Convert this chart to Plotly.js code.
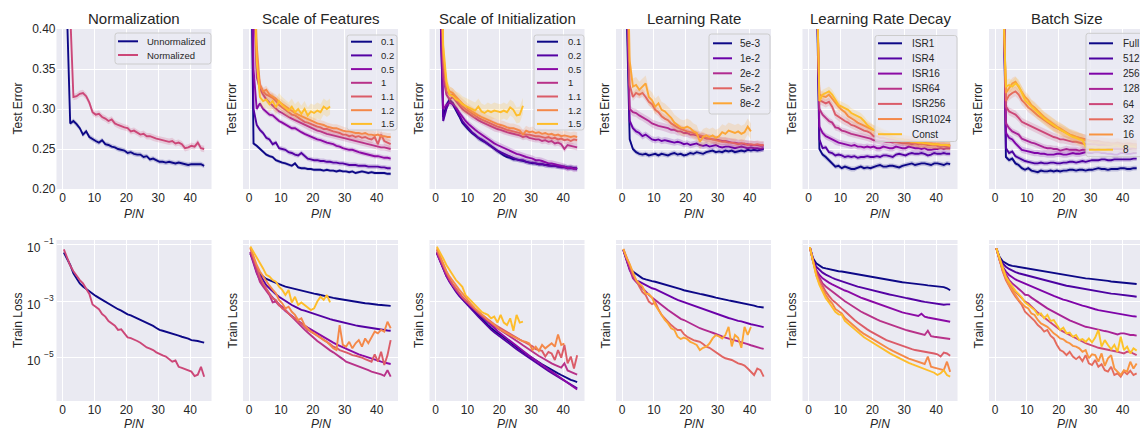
<!DOCTYPE html>
<html><head><meta charset="utf-8">
<script src="https://cdn.plot.ly/plotly-3.0.1.min.js"></script>
<style>html,body{margin:0;padding:0;overflow:hidden;background:#fff}#chart{width:1150px;height:431px}</style>
</head><body><div id="chart"></div>
<script>
// ---------- data ----------
const PN = [0.4,1.4,2.4,3.4,4.4,5.4,6.4,7.4,8.4,9.4,10.4,11.4,12.4,13.4,14.4,15.4,16.4,17.4,18.4,19.4,20.4,21.4,22.4,23.4,24.4,25.4,26.4,27.4,28.4,29.4,30.4,31.4,32.4,33.4,34.4,35.4,36.4,37.4,38.4,39.4,40.4,41.4,42.4,43.4,44.4];

const panelTitles = ['Normalization','Scale of Features','Scale of Initialization','Learning Rate','Learning Rate Decay','Batch Size'];
const normNames = ['Unnormalized','Normalized'];
const featNames = ['0.1','0.2','0.5','1','1.1','1.2','1.5'];
const initNames = ['0.1','0.2','0.5','1','1.1','1.2','1.5'];
const lrNames = ['5e-3','1e-2','2e-2','5e-2','8e-2'];
const decayNames = ['ISR1','ISR4','ISR16','ISR64','ISR256','ISR1024','Const'];
const batchNames = ['Full','512','256','128','64','32','16','8'];

const yTickVals = [0.20,0.25,0.30,0.35,0.40];
const xTickVals = [0,10,20,30,40];
const lossTickVals = [1e-1,1e-3,1e-5];
const lossTickExp = ['\u22121','\u22123','\u22125'];

// Test error (top row)
const teUnnorm = [0.62,0.42,0.282,0.285,0.281, 0.276,0.268,0.272,0.265,0.262, 0.260,0.258,0.261,0.256,0.255, 0.253,0.252,0.250,0.249,0.248, 0.245,0.246,0.244,0.243,0.243, 0.240,0.241,0.237,0.238,0.236, 0.234,0.234,0.233,0.234,0.233, 0.232,0.233,0.232,0.231,0.230, 0.231,0.231,0.231,0.231,0.229];
const teNorm = [0.70,0.55,0.42,0.315,0.316, 0.319,0.320,0.316,0.308,0.296, 0.293,0.294,0.290,0.288,0.285, 0.287,0.282,0.280,0.278,0.277, 0.276,0.272,0.273,0.271,0.268, 0.269,0.266,0.266,0.264,0.263, 0.262,0.261,0.260,0.259,0.260, 0.257,0.258,0.256,0.251,0.252, 0.254,0.253,0.258,0.251,0.250];

const teF01 = [0.60,0.257,0.254,0.250,0.247, 0.243,0.241,0.240,0.236,0.234, 0.233,0.232,0.230,0.229,0.232, 0.227,0.226,0.226,0.225,0.225, 0.224,0.224,0.224,0.223,0.224, 0.223,0.223,0.222,0.223,0.222, 0.222,0.221,0.222,0.220,0.221, 0.222,0.221,0.220,0.221,0.220, 0.220,0.220,0.220,0.219,0.219];
const teF02 = [0.60,0.30,0.280,0.274,0.270, 0.264,0.262,0.256,0.258,0.251, 0.250,0.249,0.246,0.245,0.243, 0.242,0.245,0.241,0.238,0.237, 0.236,0.236,0.235,0.235,0.234, 0.234,0.233,0.233,0.232,0.232, 0.231,0.230,0.230,0.230,0.229, 0.229,0.229,0.228,0.228,0.228, 0.228,0.227,0.227,0.226,0.226];
const teF05 = [0.65,0.35,0.300,0.307,0.300, 0.296,0.293,0.292,0.288,0.285, 0.283,0.281,0.279,0.276,0.276, 0.273,0.271,0.269,0.267,0.265, 0.263,0.262,0.261,0.259,0.258, 0.257,0.256,0.254,0.253,0.251, 0.250,0.249,0.249,0.247,0.246, 0.245,0.244,0.243,0.242,0.241, 0.241,0.240,0.239,0.239,0.238];
const teF1 = [0.70,0.45,0.340,0.325,0.318, 0.312,0.308,0.304,0.300,0.297, 0.295,0.292,0.290,0.288,0.286, 0.284,0.282,0.280,0.278,0.276, 0.274,0.273,0.272,0.270,0.269, 0.268,0.267,0.266,0.265,0.264, 0.263,0.262,0.261,0.260,0.259, 0.258,0.257,0.256,0.255,0.254, 0.253,0.252,0.252,0.251,0.250];
const teF11 = [0.70,0.50,0.360,0.330,0.322, 0.318,0.316,0.314,0.310,0.305, 0.302,0.299,0.296,0.293,0.292, 0.289,0.287,0.284,0.283,0.281, 0.280,0.278,0.277,0.275,0.275, 0.273,0.272,0.271,0.270,0.268, 0.268,0.266,0.267,0.265,0.266, 0.264,0.265,0.263,0.262,0.265, 0.256,0.268,0.260,0.258,0.256];
const teF12 = [0.70,0.50,0.380,0.330,0.322, 0.324,0.318,0.316,0.313,0.309, 0.306,0.303,0.300,0.298,0.295, 0.293,0.291,0.289,0.287,0.285, 0.284,0.282,0.281,0.280,0.278, 0.277,0.276,0.276,0.274,0.273, 0.272,0.272,0.271,0.270,0.270, 0.269,0.270,0.268,0.268,0.267, 0.268,0.266,0.266,0.265,0.265];
const teF15 = [0.70,0.50,0.360,0.315,0.310, 0.312,0.306,0.310,0.302,0.310, 0.305,0.302,0.298,0.303,0.296, 0.300,0.294,0.300,0.292,0.297, 0.295,0.298,0.296,0.303,0.300, 0.303];

const teI01 = [0.60,0.45,0.290,0.305,0.312, 0.306,0.299,0.291,0.283,0.278, 0.274,0.270,0.267,0.263,0.261, 0.259,0.256,0.253,0.251,0.247, 0.245,0.242,0.240,0.239,0.237, 0.237,0.236,0.235,0.234,0.233, 0.232,0.232,0.231,0.231,0.230, 0.230,0.229,0.229,0.228,0.228, 0.228,0.227,0.227,0.226,0.226];
const teI02 = [0.60,0.45,0.285,0.300,0.310, 0.308,0.300,0.293,0.285,0.280, 0.275,0.271,0.268,0.264,0.262, 0.259,0.257,0.254,0.250,0.248, 0.246,0.244,0.242,0.240,0.238, 0.237,0.236,0.236,0.234,0.233, 0.233,0.232,0.231,0.231,0.230, 0.229,0.229,0.229,0.228,0.227, 0.227,0.226,0.226,0.226,0.225];
const teI05 = [0.62,0.46,0.300,0.305,0.308, 0.306,0.302,0.296,0.290,0.285, 0.281,0.277,0.274,0.271,0.268, 0.265,0.262,0.260,0.257,0.255, 0.253,0.251,0.249,0.247,0.245, 0.244,0.243,0.241,0.240,0.239, 0.238,0.236,0.236,0.235,0.233, 0.232,0.232,0.231,0.230,0.229, 0.228,0.226,0.227,0.225,0.226];
const teI1 = [0.65,0.48,0.340,0.318,0.312, 0.315,0.310,0.305,0.300,0.297, 0.294,0.291,0.288,0.286,0.284, 0.282,0.280,0.278,0.276,0.275, 0.274,0.272,0.271,0.270,0.269, 0.268,0.267,0.265,0.266,0.264, 0.263,0.262,0.262,0.260,0.261, 0.259,0.260,0.257,0.258,0.256, 0.250,0.255,0.254,0.253,0.252];
const teI11 = [0.68,0.50,0.360,0.322,0.318, 0.318,0.312,0.308,0.303,0.300, 0.297,0.294,0.291,0.289,0.287, 0.285,0.283,0.281,0.280,0.278, 0.277,0.275,0.274,0.273,0.272, 0.271,0.270,0.269,0.268,0.268, 0.267,0.266,0.266,0.265,0.264, 0.265,0.263,0.264,0.262,0.263, 0.261,0.262,0.260,0.262,0.261];
const teI12 = [0.70,0.52,0.370,0.330,0.322, 0.320,0.315,0.311,0.307,0.303, 0.300,0.297,0.294,0.292,0.290, 0.288,0.286,0.284,0.283,0.281, 0.280,0.279,0.277,0.276,0.276, 0.274,0.273,0.268,0.273,0.271, 0.272,0.270,0.271,0.269,0.270, 0.268,0.269,0.267,0.268,0.266, 0.267,0.266,0.265,0.266,0.265];
const teI15 = [0.70,0.52,0.380,0.335,0.318, 0.316,0.312,0.310,0.306,0.304, 0.302,0.300,0.298,0.303,0.297, 0.295,0.298,0.296,0.298,0.297, 0.296,0.298,0.296,0.302,0.299, 0.292,0.293,0.304];

const teLR1 = [0.60,0.42,0.262,0.250,0.246, 0.244,0.243,0.244,0.242,0.243, 0.244,0.242,0.244,0.243,0.242, 0.244,0.245,0.243,0.244,0.242, 0.243,0.245,0.244,0.246,0.245, 0.244,0.246,0.247,0.248,0.246, 0.247,0.246,0.248,0.247,0.248, 0.246,0.247,0.248,0.247,0.249, 0.248,0.249,0.248,0.249,0.250];
const teLR2 = [0.62,0.45,0.285,0.276,0.272, 0.270,0.266,0.268,0.265,0.262, 0.261,0.262,0.260,0.261,0.260, 0.259,0.258,0.259,0.258,0.256, 0.257,0.255,0.256,0.257,0.255, 0.254,0.255,0.253,0.254,0.255, 0.253,0.252,0.253,0.253,0.252, 0.251,0.252,0.253,0.252,0.251, 0.252,0.251,0.251,0.250,0.251];
const teLR3 = [0.65,0.48,0.300,0.296,0.295, 0.292,0.290,0.287,0.285,0.282, 0.280,0.279,0.278,0.277,0.276, 0.274,0.274,0.272,0.272,0.270, 0.270,0.268,0.268,0.267,0.265, 0.265,0.263,0.263,0.262,0.262, 0.261,0.260,0.260,0.259,0.258, 0.258,0.257,0.257,0.256,0.256, 0.255,0.255,0.255,0.254,0.254];
const teLR4 = [0.68,0.50,0.330,0.315,0.320, 0.318,0.320,0.315,0.309,0.306, 0.299,0.296,0.291,0.288,0.286, 0.282,0.279,0.277,0.275,0.273, 0.272,0.271,0.270,0.268,0.267, 0.266,0.264,0.263,0.262,0.261, 0.260,0.259,0.259,0.258,0.258, 0.257,0.256,0.257,0.257,0.255, 0.256,0.255,0.256,0.255,0.255];
const teLR5 = [0.70,0.55,0.360,0.328,0.330, 0.324,0.328,0.332,0.315,0.311, 0.303,0.307,0.299,0.297,0.293, 0.289,0.283,0.280,0.277,0.276, 0.278,0.276,0.272,0.270,0.259, 0.265,0.267,0.265,0.267,0.264, 0.266,0.271,0.269,0.273,0.271, 0.270,0.272,0.269,0.271,0.278, 0.272];

const teD1 = [0.80,0.65,0.50,0.250,0.243, 0.240,0.236,0.232,0.228,0.229, 0.226,0.228,0.226,0.225,0.225, 0.227,0.228,0.226,0.227,0.226, 0.228,0.229,0.230,0.228,0.228, 0.229,0.229,0.228,0.227,0.229, 0.230,0.231,0.232,0.230,0.231, 0.232,0.232,0.231,0.230,0.232, 0.232,0.231,0.230,0.232,0.231];
const teD4 = [0.80,0.65,0.52,0.262,0.251, 0.252,0.246,0.245,0.242,0.243, 0.242,0.240,0.241,0.240,0.241, 0.239,0.240,0.240,0.241,0.240, 0.240,0.241,0.240,0.242,0.242, 0.241,0.240,0.243,0.244,0.243, 0.242,0.244,0.245,0.244,0.244, 0.245,0.244,0.242,0.243,0.245, 0.244,0.244,0.245,0.244,0.244];
const teD16 = [0.80,0.65,0.52,0.278,0.270, 0.266,0.264,0.262,0.259,0.258, 0.257,0.256,0.255,0.254,0.255, 0.253,0.253,0.252,0.253,0.252, 0.253,0.251,0.251,0.253,0.252, 0.251,0.251,0.253,0.252,0.251, 0.251,0.253,0.252,0.251,0.251, 0.250,0.251,0.249,0.249,0.250, 0.250,0.251,0.250,0.251,0.251];
const teD64 = [0.80,0.65,0.50,0.300,0.293, 0.289,0.285,0.283,0.277,0.276, 0.273,0.272,0.270,0.269,0.268, 0.267,0.266,0.265,0.264,0.263, 0.261,0.261,0.260,0.260,0.259, 0.259,0.258,0.259,0.258,0.257, 0.257,0.257,0.256,0.257,0.256, 0.257,0.256,0.255,0.255,0.256, 0.254,0.254,0.254,0.253,0.253];
const teD256 = [0.80,0.65,0.50,0.311,0.309, 0.307,0.309,0.303,0.293,0.290, 0.287,0.285,0.283,0.280,0.279, 0.277,0.274,0.273,0.272,0.270, 0.266,0.266,0.264,0.264,0.263, 0.262,0.262,0.261,0.260,0.259, 0.259,0.258,0.258,0.257,0.257, 0.256,0.257,0.256,0.256,0.255, 0.255,0.255,0.255,0.254,0.254];
const teD1024 = [0.80,0.65,0.50,0.318,0.316, 0.315,0.318,0.313,0.307,0.303, 0.299,0.296,0.291,0.289,0.286, 0.283,0.281,0.279,0.277,0.275, 0.273,0.271,0.269,0.268,0.267, 0.265,0.264,0.263,0.262,0.262, 0.261,0.261,0.260,0.259,0.258, 0.258,0.258,0.257,0.257,0.256, 0.256,0.255,0.255,0.255,0.255];
const teDConst = [0.80,0.65,0.50,0.310,0.318, 0.320,0.322,0.318,0.311,0.305, 0.303,0.301,0.299,0.295,0.293, 0.291,0.289,0.285,0.280,0.277, 0.274,0.273,0.271,0.270,0.268, 0.266,0.264,0.263,0.262,0.262, 0.261,0.260,0.259,0.259,0.258, 0.258,0.257,0.257,0.256,0.256, 0.256,0.255,0.255,0.255,0.254];

const teBFull = [0.80,0.65,0.55,0.240,0.236, 0.238,0.232,0.230,0.226,0.224, 0.226,0.223,0.222,0.221,0.223, 0.222,0.222,0.223,0.222,0.223, 0.222,0.223,0.223,0.224,0.224, 0.223,0.224,0.224,0.223,0.224, 0.224,0.225,0.226,0.225,0.225, 0.224,0.225,0.225,0.225,0.226, 0.226,0.225,0.225,0.226,0.226];
const teB512 = [0.80,0.65,0.55,0.251,0.245, 0.247,0.241,0.239,0.236,0.235, 0.234,0.233,0.232,0.232,0.233, 0.232,0.232,0.233,0.233,0.232, 0.232,0.233,0.233,0.234,0.234, 0.233,0.234,0.235,0.234,0.235, 0.236,0.236,0.236,0.237,0.237, 0.236,0.236,0.237,0.237,0.237, 0.237,0.237,0.237,0.238,0.238];
const teB256 = [0.80,0.65,0.55,0.270,0.264, 0.262,0.257,0.253,0.249,0.248, 0.247,0.246,0.245,0.245,0.244, 0.244,0.243,0.243,0.243,0.244, 0.244,0.243,0.243,0.244,0.245, 0.244,0.244,0.245,0.246,0.245, 0.245,0.246,0.246,0.245,0.245, 0.244,0.244,0.243,0.243,0.245, 0.245,0.244,0.244,0.245,0.245];
const teB128 = [0.80,0.65,0.50,0.282,0.276, 0.272,0.270,0.268,0.263,0.261, 0.259,0.258,0.257,0.255,0.253, 0.252,0.251,0.251,0.250,0.250, 0.248,0.249,0.250,0.249,0.249, 0.249,0.248,0.249,0.249,0.250, 0.250,0.249,0.250,0.249,0.249, 0.250,0.250,0.250,0.250,0.250, 0.250,0.250,0.250,0.251,0.251];
const teB64 = [0.80,0.65,0.50,0.303,0.297, 0.295,0.293,0.289,0.284,0.282, 0.280,0.278,0.276,0.274,0.272, 0.270,0.268,0.267,0.265,0.264, 0.262,0.262,0.261,0.260,0.259, 0.259,0.258,0.257,0.256,0.256, 0.256,0.256,0.255,0.255,0.255, 0.255,0.254,0.254,0.254,0.254, 0.254,0.254,0.253,0.253,0.253];
const teB32 = [0.80,0.65,0.50,0.310,0.317, 0.320,0.322,0.318,0.311,0.307, 0.302,0.299,0.295,0.292,0.289, 0.286,0.284,0.281,0.278,0.276, 0.274,0.271,0.270,0.268,0.266, 0.265,0.264,0.263,0.262,0.261, 0.260,0.260,0.260,0.259,0.258, 0.258,0.257,0.257,0.258,0.257, 0.256,0.257,0.257,0.256,0.256];
const teB16 = [0.80,0.65,0.50,0.320,0.326, 0.332,0.334,0.328,0.322,0.315, 0.311,0.305,0.302,0.298,0.293, 0.290,0.287,0.284,0.280,0.278, 0.276,0.273,0.271,0.268,0.267, 0.265,0.263,0.262,0.261,0.260, 0.259,0.258,0.257,0.257,0.257, 0.256,0.256,0.256,0.256,0.255, 0.255,0.255,0.255,0.255,0.255];
const teB8 = [0.80,0.65,0.45,0.328,0.330, 0.328,0.332,0.329,0.320,0.311, 0.307,0.303,0.299,0.295,0.291, 0.288,0.285,0.282,0.279,0.277, 0.274,0.272,0.269,0.267,0.265, 0.264,0.262,0.261,0.253,0.252, 0.253,0.252,0.252,0.253,0.253, 0.253,0.253,0.254,0.254,0.253, 0.253,0.254,0.253,0.253,0.252];

// shaded-band half widths (test error)
const bandNorm = [0.003,0.004];
const bandFeat = [0.002,0.003,0.003,0.004,0.005,0.005,0.010];
const bandInit = [0.003,0.003,0.004,0.004,0.005,0.006,0.010];
const bandLR = [0.003,0.004,0.005,0.005,0.010];
const bandDecay = [0.003,0.003,0.004,0.004,0.005,0.006,0.006];
const bandBatch = [0.003,0.003,0.004,0.004,0.005,0.006,0.007,0.008];

// Train loss (bottom row), stored as log10 of the loss
const tlUnnorm = [-1.29,-1.5,-1.73,-2.02,-2.2, -2.38,-2.49,-2.58,-2.67,-2.75, -2.82,-2.89,-2.96,-3.02,-3.08, -3.16,-3.24,-3.29,-3.34,-3.41, -3.47,-3.51,-3.56,-3.61,-3.66, -3.71,-3.77,-3.83,-3.88,-3.95, -4.02,-4.05,-4.08,-4.12,-4.15, -4.18,-4.22,-4.26,-4.29,-4.33, -4.38,-4.39,-4.41,-4.44,-4.47];
const tlNorm = [-1.18,-1.45,-1.75,-1.95,-2.12, -2.26,-2.38,-2.55,-2.75,-3.12, -3.2,-3.29,-3.46,-3.55,-3.71, -3.78,-3.87,-4.02,-4.0,-4.14, -4.28,-4.31,-4.35,-4.41,-4.47, -4.55,-4.64,-4.68,-4.73,-4.81, -4.88,-4.92,-4.96,-5.05,-5.14, -5.1,-5.32,-5.36,-5.4,-5.45, -5.49,-5.65,-5.6,-5.32,-5.67];

const tlF01 = [-1.32,-1.61,-1.85,-2.02,-2.14, -2.22,-2.27,-2.32,-2.37,-2.41, -2.45,-2.49,-2.52,-2.55,-2.58, -2.61,-2.63,-2.66,-2.69,-2.71, -2.74,-2.76,-2.79,-2.81,-2.84, -2.86,-2.89,-2.91,-2.93,-2.96, -2.98,-2.99,-3.02,-3.03,-3.05, -3.06,-3.08,-3.09,-3.11,-3.12, -3.13,-3.14,-3.15,-3.16,-3.17];
const tlF02 = [-1.28,-1.55,-1.85,-2.08,-2.26, -2.44,-2.55,-2.67,-2.76,-2.85, -2.93,-3.0,-3.08,-3.14,-3.2, -3.26,-3.31,-3.34,-3.38,-3.42, -3.46,-3.5,-3.53,-3.57,-3.61, -3.64,-3.67,-3.7,-3.73,-3.76, -3.79,-3.81,-3.84,-3.86,-3.88, -3.9,-3.92,-3.94,-3.96,-3.98, -3.99,-4.01,-4.03,-4.04,-4.05];
const tlF05 = [-1.32,-1.67,-2.02,-2.26,-2.44, -2.61,-2.75,-2.88,-3.0,-3.12, -3.24,-3.35,-3.44,-3.53,-3.61, -3.69,-3.79,-3.87,-3.94,-4.01, -4.08,-4.15,-4.22,-4.29,-4.35, -4.41,-4.47,-4.53,-4.58,-4.64, -4.69,-4.75,-4.8,-4.84,-4.88, -4.92,-4.96,-5.0,-5.04,-5.08, -5.11,-5.14,-5.17,-5.19,-5.22];
const tlF1 = [-1.26,-1.61,-2.02,-2.32,-2.49, -2.64,-2.79,-3.05,-3.02,-3.16, -3.2,-3.32,-3.44,-3.55,-3.67, -3.79,-3.91,-4.01,-4.11,-4.22, -4.32,-4.41,-4.49,-4.58,-4.67, -4.74,-4.81,-4.88,-4.96,-5.05, -5.14,-5.18,-5.23,-5.27,-5.32, -5.36,-5.4,-5.44,-5.49,-5.52, -5.55,-5.59,-5.64,-5.44,-5.67];
const tlF11 = [-1.14,-1.49,-1.85,-2.14,-2.38, -2.55,-2.73,-2.91,-2.96,-3.14, -3.26,-3.32,-3.44,-3.55,-3.61, -3.73,-3.79,-3.91,-4.02,-4.08, -4.14,-4.22,-4.29,-4.36,-4.44, -4.52,-4.61,-4.65,-4.73,-4.76, -4.81,-4.86,-4.91,-4.93,-4.96, -5.0,-5.05,-5.1,-5.14,-4.88, -5.14,-4.79,-5.26,-4.91,-4.38];
const tlF12 = [-1.11,-1.43,-1.73,-1.96,-2.14, -2.32,-2.46,-2.6,-2.73,-2.96, -3.08,-3.26,-3.2,-3.38,-3.49, -3.67,-3.61,-3.85,-3.96,-4.08, -4.14,-4.22,-4.32,-4.38,-4.44, -4.55,-4.67,-4.73,-3.85,-4.55, -4.61,-4.44,-4.67,-4.49,-4.38, -4.61,-4.32,-4.49,-4.26,-4.08, -4.14,-4.02,-4.08,-3.73,-3.96];
const tlF15 = [-1.08,-1.26,-1.44,-1.67,-1.85, -2.08,-2.14,-2.26,-2.32,-2.49, -2.61,-2.79,-2.61,-3.05,-2.85, -3.14,-3.05,-3.14,-3.24,-3.32, -3.26,-3.02,-2.85,-2.96,-2.79, -3.05];

const tlI01 = [-1.29,-1.55,-1.85,-2.08,-2.29, -2.49,-2.64,-2.79,-2.91,-3.02, -3.14,-3.26,-3.37,-3.49,-3.6, -3.72,-3.84,-3.95,-4.05,-4.13, -4.2,-4.29,-4.38,-4.46,-4.55, -4.64,-4.73,-4.8,-4.87,-4.95, -5.02,-5.09,-5.16,-5.23,-5.3, -5.36,-5.42,-5.49,-5.55,-5.61, -5.67,-5.73,-5.78,-5.82,-5.86];
const tlI02 = [-1.3,-1.58,-1.88,-2.12,-2.33, -2.52,-2.67,-2.82,-2.95,-3.07, -3.19,-3.31,-3.43,-3.55,-3.67, -3.79,-3.9,-4.01,-4.1,-4.18, -4.26,-4.35,-4.44,-4.52,-4.61, -4.7,-4.78,-4.86,-4.94,-5.02, -5.1,-5.17,-5.25,-5.32,-5.4, -5.47,-5.54,-5.61,-5.68,-5.75, -5.82,-5.9,-5.96,-6.02,-6.08];
const tlI05 = [-1.32,-1.6,-1.9,-2.12,-2.3, -2.48,-2.62,-2.76,-2.88,-2.99, -3.1,-3.21,-3.32,-3.43,-3.54, -3.65,-3.76,-3.87,-3.97,-4.06, -4.15,-4.24,-4.33,-4.42,-4.51, -4.6,-4.68,-4.76,-4.84,-4.93, -5.01,-5.09,-5.17,-5.25,-5.33, -5.41,-5.49,-5.57,-5.65,-5.73, -5.8,-5.88,-5.96,-6.04,-6.12];
const tlI1 = [-1.26,-1.5,-1.79,-2.05,-2.26, -2.44,-2.6,-2.75,-2.88,-3.0, -3.11,-3.22,-3.32,-3.43,-3.53, -3.62,-3.71,-3.8,-3.88,-3.96, -4.03,-4.1,-4.18,-4.25,-4.33, -4.4,-4.48,-4.56,-4.64,-4.72, -4.8,-4.87,-4.94,-5.0,-5.07, -5.15,-5.2,-5.25,-5.3,-5.35, -5.2,-5.45,-5.5,-5.55,-5.6];
const tlI11 = [-1.2,-1.46,-1.76,-2.02,-2.23, -2.41,-2.57,-2.72,-2.85,-2.97, -3.08,-3.19,-3.29,-3.39,-3.48, -3.57,-3.65,-3.74,-3.82,-3.89, -3.96,-4.03,-4.1,-4.16,-4.23, -4.3,-4.36,-4.42,-4.48,-4.54, -4.6,-4.7,-4.73,-4.76,-4.96, -4.8,-4.85,-5.08,-4.73,-5.0, -4.55,-5.2,-4.96,-5.38,-4.91];
const tlI12 = [-1.14,-1.4,-1.7,-1.95,-2.14, -2.3,-2.45,-2.6,-2.73,-2.88, -3.02,-3.14,-3.26,-3.37,-3.47, -3.58,-3.67,-3.75,-3.85,-3.93, -4.02,-4.08,-4.15,-4.2,-4.26, -4.31,-4.38,-4.42,-4.44,-4.5, -4.73,-4.61,-4.76,-4.55,-4.67, -4.58,-4.49,-4.61,-4.18,-4.55, -4.5];
const tlI15 = [-1.08,-1.27,-1.5,-1.73,-1.91, -2.08,-2.26,-2.38,-2.5,-2.79, -2.91,-3.02,-3.17,-3.26,-3.38, -3.44,-3.49,-3.61,-3.55,-3.76, -3.49,-3.76,-3.85,-3.61,-4.05, -3.49,-3.76,-3.73];

const tlLR1 = [-1.2,-1.55,-1.85,-1.96,-2.05, -2.14,-2.2,-2.24,-2.28,-2.3, -2.32,-2.35,-2.38,-2.42,-2.46, -2.49,-2.52,-2.55,-2.58,-2.62, -2.65,-2.67,-2.7,-2.72,-2.75, -2.77,-2.79,-2.82,-2.85,-2.88, -2.91,-2.93,-2.96,-2.98,-3.0, -3.02,-3.04,-3.06,-3.08,-3.11, -3.14,-3.16,-3.2,-3.22,-3.23];
const tlLR2 = [-1.2,-1.55,-1.91,-2.12,-2.28, -2.32,-2.38,-2.44,-2.5,-2.55, -2.58,-2.64,-2.7,-2.76,-2.82, -2.87,-2.91,-2.96,-3.0,-3.04, -3.08,-3.12,-3.17,-3.21,-3.26, -3.29,-3.32,-3.36,-3.4,-3.45, -3.49,-3.54,-3.58,-3.6,-3.63, -3.67,-3.7,-3.72,-3.76,-3.79, -3.82,-3.84,-3.87,-3.9,-3.92];
const tlLR3 = [-1.2,-1.55,-1.91,-2.2,-2.32, -2.44,-2.55,-2.67,-2.78,-2.88, -2.96,-3.05,-3.14,-3.23,-3.32, -3.4,-3.49,-3.56,-3.63,-3.67, -3.73,-3.8,-3.85,-3.91,-3.96, -4.0,-4.05,-4.08,-4.12,-4.17, -4.2,-4.25,-4.29,-4.32,-4.35, -4.38,-4.41,-4.44,-4.47,-4.52, -4.56,-4.6,-4.62,-4.66,-4.69];
const tlLR4 = [-1.17,-1.44,-1.73,-2.08,-2.26, -2.49,-2.69,-2.79,-3.02,-3.11, -3.05,-3.29,-3.49,-3.61,-3.75, -3.85,-3.94,-4.02,-4.02,-4.17, -4.26,-4.32,-4.38,-4.41,-4.44, -4.52,-4.61,-4.65,-4.73,-4.82, -4.91,-4.96,-5.02,-5.05,-5.08, -5.14,-5.2,-5.23,-5.28,-5.38, -5.49,-5.61,-5.38,-5.44,-5.67];
const tlLR5 = [-1.16,-1.47,-1.7,-1.96,-2.26, -2.38,-2.49,-2.73,-2.76,-2.88, -3.14,-3.32,-3.49,-3.67,-3.79, -3.96,-4.02,-4.26,-4.34,-4.29, -4.34,-4.44,-4.49,-4.55,-4.73, -4.65,-4.61,-4.5,-4.32,-4.2, -4.25,-4.32,-4.2,-3.91,-4.6, -4.2,-4.3,-4.65,-3.91,-4.2, -3.91];

const tlD1 = [-1.1,-1.49,-1.67,-1.76,-1.82, -1.85,-1.88,-1.9,-1.93,-1.95, -1.96,-1.98,-2.01,-2.03,-2.04, -2.06,-2.08,-2.1,-2.13,-2.16, -2.18,-2.2,-2.21,-2.23,-2.25, -2.26,-2.28,-2.3,-2.32,-2.34, -2.35,-2.36,-2.38,-2.39,-2.4, -2.42,-2.43,-2.45,-2.46,-2.47, -2.48,-2.5,-2.51,-2.55,-2.62];
const tlD4 = [-1.1,-1.55,-1.79,-1.91,-2.0, -2.07,-2.14,-2.18,-2.23,-2.27, -2.31,-2.35,-2.38,-2.42,-2.46, -2.49,-2.52,-2.55,-2.58,-2.61, -2.63,-2.67,-2.69,-2.72,-2.74, -2.77,-2.79,-2.82,-2.85,-2.87, -2.89,-2.91,-2.94,-2.96,-2.99, -3.01,-3.03,-3.05,-3.07,-3.09, -3.11,-3.12,-3.13,-3.12,-3.12];
const tlD16 = [-1.1,-1.58,-1.91,-2.08,-2.2, -2.29,-2.35,-2.41,-2.47,-2.52, -2.58,-2.63,-2.67,-2.73,-2.79, -2.83,-2.88,-2.92,-2.96,-3.0, -3.05,-3.09,-3.13,-3.17,-3.22, -3.25,-3.3,-3.33,-3.36,-3.4, -3.43,-3.45,-3.48,-3.5,-3.53, -3.45,-3.55,-3.58,-3.6,-3.62, -3.65,-3.68,-3.7,-3.71,-3.73];
const tlD64 = [-1.1,-1.61,-1.96,-2.2,-2.38, -2.49,-2.58,-2.67,-2.76,-2.85, -2.93,-3.01,-3.08,-3.16,-3.23, -3.3,-3.37,-3.43,-3.49,-3.55, -3.61,-3.65,-3.7,-3.74,-3.79, -3.82,-3.87,-3.91,-3.96,-3.99, -4.02,-4.05,-4.08,-4.11,-4.14, -4.16,-4.2,-4.05,-4.24,-4.26, -4.28,-4.29,-4.3,-4.32,-4.34];
const tlD256 = [-1.1,-1.61,-2.02,-2.26,-2.49, -2.67,-2.82,-2.96,-3.05,-3.14, -3.26,-3.36,-3.47,-3.57,-3.67, -3.76,-3.85,-3.93,-4.0,-4.07, -4.14,-4.2,-4.26,-4.32,-4.38, -4.42,-4.47,-4.51,-4.55,-4.6, -4.64,-4.67,-4.7,-4.73,-4.75, -4.77,-4.78,-4.8,-4.81,-4.85, -4.88,-4.96,-4.82,-4.85,-4.93];
const tlD1024 = [-1.1,-1.61,-2.08,-2.38,-2.61, -2.79,-2.96,-3.08,-3.28,-3.36, -3.44,-3.6,-3.7,-3.79,-3.89, -3.99,-4.08,-4.16,-4.23,-4.3, -4.38,-4.45,-4.52,-4.58,-4.64, -4.7,-4.76,-4.82,-4.88,-4.93, -4.98,-5.03,-5.07,-5.11,-5.15, -5.18,-5.22,-4.96,-5.32,-5.35, -5.38,-5.4,-5.44,-5.14,-5.5];
const tlDConst = [-1.1,-1.61,-2.1,-2.43,-2.66, -2.9,-3.05,-3.2,-3.38,-3.47, -3.49,-3.7,-3.8,-3.91,-4.0, -4.1,-4.18,-4.28,-4.35,-4.42, -4.5,-4.58,-4.66,-4.72,-4.78, -4.84,-4.9,-4.96,-5.02,-5.08, -5.14,-5.18,-5.23,-5.27,-5.32, -5.36,-5.4,-5.44,-5.49,-5.53, -5.61,-5.55,-5.44,-5.61,-5.67];

const tlBFull = [-1.14,-1.44,-1.6,-1.67,-1.73, -1.76,-1.78,-1.8,-1.82,-1.85, -1.87,-1.88,-1.9,-1.92,-1.94, -1.96,-1.98,-2.0,-2.02,-2.04, -2.06,-2.08,-2.1,-2.11,-2.13, -2.14,-2.16,-2.18,-2.2,-2.21, -2.22,-2.24,-2.26,-2.27,-2.28, -2.29,-2.31,-2.32,-2.33,-2.34, -2.35,-2.36,-2.38,-2.39,-2.4];
const tlB512 = [-1.14,-1.49,-1.67,-1.79,-1.87, -1.94,-1.98,-2.02,-2.05,-2.08, -2.11,-2.15,-2.18,-2.21,-2.24, -2.27,-2.3,-2.33,-2.35,-2.38, -2.4,-2.43,-2.46,-2.48,-2.5, -2.53,-2.55,-2.57,-2.59,-2.61, -2.64,-2.65,-2.67,-2.69,-2.71, -2.72,-2.74,-2.75,-2.76,-2.78, -2.79,-2.8,-2.82,-2.83,-2.85];
const tlB256 = [-1.14,-1.52,-1.79,-1.96,-2.08, -2.17,-2.24,-2.29,-2.34,-2.39, -2.44,-2.49,-2.53,-2.58,-2.63, -2.68,-2.72,-2.77,-2.82,-2.86, -2.91,-2.95,-2.98,-3.02,-3.05, -3.09,-3.12,-3.16,-3.19,-3.23, -3.26,-3.29,-3.32,-3.34,-3.37, -3.39,-3.41,-3.44,-3.46,-3.47, -3.49,-3.51,-3.53,-3.54,-3.55];
const tlB128 = [-1.14,-1.55,-1.85,-2.08,-2.26, -2.38,-2.47,-2.57,-2.67,-2.78, -2.79,-2.88,-2.96,-3.04,-3.11, -3.18,-3.26,-3.32,-3.38,-3.45, -3.52,-3.57,-3.64,-3.68,-3.73, -3.78,-3.83,-3.87,-3.91,-3.93, -3.96,-3.99,-4.02,-4.03,-4.06, -4.08,-4.11,-4.13,-4.18,-4.14, -4.14,-4.17,-4.2,-4.2,-4.22];
const tlB64 = [-1.14,-1.55,-1.91,-2.2,-2.38, -2.55,-2.67,-2.79,-2.91,-3.02, -3.08,-3.2,-3.32,-3.41,-3.49, -3.58,-3.67,-3.76,-3.85,-3.94, -4.02,-4.08,-4.14,-4.2,-4.26, -4.32,-4.38,-4.44,-4.49,-4.53, -4.58,-4.61,-4.65,-4.67,-4.7, -4.72,-4.73,-4.76,-4.79,-4.82, -4.85,-4.79,-4.79,-4.86,-4.91];
const tlB32 = [-1.14,-1.58,-1.96,-2.26,-2.49, -2.67,-2.85,-3.0,-3.14,-3.38, -3.49,-3.61,-3.7,-3.85,-3.94, -4.08,-4.02,-4.22,-4.32,-4.55, -4.73,-4.79,-4.91,-4.79,-4.96, -5.05,-4.96,-5.12,-4.91,-5.2, -5.26,-5.08,-5.32,-5.23,-5.44, -5.49,-5.32,-5.61,-5.55,-5.67, -5.49,-5.58,-5.46,-5.61,-5.55];
const tlB16 = [-1.14,-1.55,-1.91,-2.2,-2.44, -2.61,-2.79,-2.96,-3.08,-3.2, -3.26,-3.44,-3.49,-3.67,-3.79, -3.85,-3.91,-4.02,-4.14,-4.22, -4.32,-4.35,-4.44,-4.49,-4.58, -4.61,-4.67,-4.79,-4.73,-5.02, -4.88,-4.91,-5.14,-4.85,-5.29, -5.02,-4.91,-5.38,-5.49,-5.61, -5.44,-5.49,-5.14,-5.38,-5.2];
const tlB8 = [-1.14,-1.49,-1.85,-2.14,-2.32, -2.49,-2.64,-2.76,-2.88,-3.05, -3.14,-3.2,-3.32,-3.49,-3.44, -3.61,-3.49,-3.7,-3.67,-3.85, -4.02,-3.94,-4.14,-4.11,-4.26, -4.2,-4.38,-4.34,-4.44,-4.32, -4.46,-4.29,-4.02,-4.61,-4.38, -4.55,-4.7,-4.55,-4.79,-4.26, -4.73,-4.61,-4.85,-4.67,-4.75];

// plasma colour samples
const C2 = ['#0d0887','#cc4778'];
const C5 = ['#0d0887','#6a00a8','#b12a90','#e16462','#fca636'];
const C7 = ['#0d0887','#5402a3','#8b0aa5','#b83289','#db5c68','#f48849','#febd2a'];
const C8 = ['#0d0887','#4c02a1','#7e03a8','#a82296','#cc4778','#e56b5d','#f89441','#fdc328'];

// ---------- assembly ----------
const panels = [
  {names:normNames, colors:C2, test:[teUnnorm,teNorm], band:bandNorm, loss:[tlUnnorm,tlNorm]},
  {names:featNames, colors:C7, test:[teF01,teF02,teF05,teF1,teF11,teF12,teF15], band:bandFeat, loss:[tlF01,tlF02,tlF05,tlF1,tlF11,tlF12,tlF15]},
  {names:initNames, colors:C7, test:[teI01,teI02,teI05,teI1,teI11,teI12,teI15], band:bandInit, loss:[tlI01,tlI02,tlI05,tlI1,tlI11,tlI12,tlI15]},
  {names:lrNames, colors:C5, test:[teLR1,teLR2,teLR3,teLR4,teLR5], band:bandLR, loss:[tlLR1,tlLR2,tlLR3,tlLR4,tlLR5]},
  {names:decayNames, colors:C7, test:[teD1,teD4,teD16,teD64,teD256,teD1024,teDConst], band:bandDecay, loss:[tlD1,tlD4,tlD16,tlD64,tlD256,tlD1024,tlDConst]},
  {names:batchNames, colors:C8, test:[teBFull,teB512,teB256,teB128,teB64,teB32,teB16,teB8], band:bandBatch, loss:[tlBFull,tlB512,tlB256,tlB128,tlB64,tlB32,tlB16,tlB8]}
];

// legend geometry in pixels (layout only)
const legendGeo = [
  {x0:115, x1:211, y0:33, y1:64, row0:41.3, step:13.7, l0:118, l1:138, tx:145, fs:9.5},
  {x0:347, x1:397, y0:35, y1:130, row0:41.7, step:13.7, l0:351, l1:372, tx:379, fs:9.5},
  {x0:534, x1:584, y0:35, y1:130, row0:41.7, step:13.7, l0:537, l1:558, tx:565.5, fs:9.5},
  {x0:709, x1:770, y0:34, y1:114, row0:43.3, step:15, l0:713, l1:732, tx:738, fs:10},
  {x0:875, x1:957, y0:35.5, y1:141.5, row0:43.3, step:15.15, l0:878, l1:902, tx:910, fs:10},
  {x0:1086, x1:1143, y0:33.3, y1:156.7, row0:43.3, step:15.2, l0:1089, l1:1113, tx:1120.5, fs:10}
];

const W = 1150, H = 431;
const LEFTS = [56.5, 243, 429.5, 616, 802.5, 989];
const PW = 155;
const TOP = [29, 189], BOT = [240, 401];
const LOSS_RANGE = [-6.527, -0.848];
const FONT = 'Liberation Sans, Arial, Helvetica, sans-serif';
const TXT = '#262626';
const px = v => v / W, py = v => 1 - v / H;
const sfx = n => n === 1 ? '' : String(n);
function rgba(hex, a){const r=parseInt(hex.slice(1,3),16),g=parseInt(hex.slice(3,5),16),b=parseInt(hex.slice(5,7),16);return `rgba(${r},${g},${b},${a})`;}

const traces = [];
const layout = {
  width: W, height: H, margin:{l:0,r:0,t:0,b:0},
  paper_bgcolor:'#ffffff', plot_bgcolor:'#EAEAF2',
  showlegend:false, hovermode:false,
  font:{family:FONT, color:TXT, size:12},
  annotations:[], shapes:[]
};

panels.forEach((p, i) => {
  const nt = i + 1, nb = i + 7;
  const L = LEFTS[i];
  const dom = [px(L), px(L + PW)];
  const xCommon = {domain:dom, range:[-1.9,46.7], tickmode:'array', tickvals:xTickVals, ticktext:xTickVals.map(String),
    showgrid:true, gridcolor:'#ffffff', gridwidth:1, zeroline:false, showline:false, ticks:'',
    tickfont:{size:12, color:TXT, family:FONT}, fixedrange:true};
  layout['xaxis'+sfx(nt)] = Object.assign({}, xCommon, {anchor:'y'+sfx(nt)});
  layout['xaxis'+sfx(nb)] = Object.assign({}, xCommon, {anchor:'y'+sfx(nb)});
  layout['yaxis'+sfx(nt)] = {domain:[py(TOP[1]), py(TOP[0])], anchor:'x'+sfx(nt), range:[0.2,0.4], tickmode:'array',
    tickvals:yTickVals, ticktext:yTickVals.map(v=>v.toFixed(2)), showticklabels:i===0,
    showgrid:true, gridcolor:'#ffffff', gridwidth:1, zeroline:false, showline:false, ticks:'',
    tickfont:{size:12, color:TXT, family:FONT}, fixedrange:true};
  layout['yaxis'+sfx(nb)] = {domain:[py(BOT[1]), py(BOT[0])], anchor:'x'+sfx(nb), type:'log', range:LOSS_RANGE,
    tickmode:'array', tickvals:lossTickVals, showticklabels:false,
    showgrid:true, gridcolor:'#ffffff', gridwidth:1, zeroline:false, showline:false, ticks:'', fixedrange:true};

  p.test.forEach((ys, j) => {
    const xs = PN.slice(0, ys.length);
    const w = p.band[j], col = p.colors[j];
    traces.push({type:'scatter', mode:'lines', xaxis:'x'+sfx(nt), yaxis:'y'+sfx(nt),
      x: xs.concat(xs.slice().reverse()),
      y: ys.map(v=>v+w).concat(ys.map(v=>v-w).reverse()),
      fill:'toself', fillcolor:rgba(col,0.2), line:{width:0}, hoverinfo:'skip', showlegend:false});
    traces.push({type:'scatter', mode:'lines', xaxis:'x'+sfx(nt), yaxis:'y'+sfx(nt), x:xs, y:ys,
      name:p.names[j], line:{color:col, width:1.9}, hoverinfo:'skip'});
  });
  p.loss.forEach((ls, j) => {
    const xs = PN.slice(0, ls.length);
    traces.push({type:'scatter', mode:'lines', xaxis:'x'+sfx(nb), yaxis:'y'+sfx(nb), x:xs,
      y: ls.map(e => Math.pow(10, e)), name:p.names[j], line:{color:p.colors[j], width:1.9}, hoverinfo:'skip'});
  });

  const cx = px(L + PW/2);
  layout.annotations.push({text:panelTitles[i], xref:'paper', yref:'paper', x:cx, y:py(18), xanchor:'center', yanchor:'middle', showarrow:false, font:{size:15, color:TXT, family:FONT}});
  const off = i === 0 ? 39 : 11;
  layout.annotations.push({text:'Test Error', xref:'paper', yref:'paper', x:px(L-off), y:py(109), xanchor:'center', yanchor:'middle', textangle:-90, showarrow:false, font:{size:12, color:TXT, family:FONT}});
  layout.annotations.push({text:'Train Loss', xref:'paper', yref:'paper', x:px(L-off), y:py(320.5), xanchor:'center', yanchor:'middle', textangle:-90, showarrow:false, font:{size:12, color:TXT, family:FONT}});
  layout.annotations.push({text:'<i>P</i>/<i>N</i>', xref:'paper', yref:'paper', x:cx, y:py(214), xanchor:'center', yanchor:'middle', showarrow:false, font:{size:12, color:TXT, family:FONT}});
  layout.annotations.push({text:'<i>P</i>/<i>N</i>', xref:'paper', yref:'paper', x:cx, y:py(424), xanchor:'center', yanchor:'middle', showarrow:false, font:{size:12, color:TXT, family:FONT}});

  const g = legendGeo[i], r = 2.5;
  const path = `M ${px(g.x0+r)},${py(g.y0)} L ${px(g.x1-r)},${py(g.y0)} Q ${px(g.x1)},${py(g.y0)} ${px(g.x1)},${py(g.y0+r)} `+
    `L ${px(g.x1)},${py(g.y1-r)} Q ${px(g.x1)},${py(g.y1)} ${px(g.x1-r)},${py(g.y1)} `+
    `L ${px(g.x0+r)},${py(g.y1)} Q ${px(g.x0)},${py(g.y1)} ${px(g.x0)},${py(g.y1-r)} `+
    `L ${px(g.x0)},${py(g.y0+r)} Q ${px(g.x0)},${py(g.y0)} ${px(g.x0+r)},${py(g.y0)} Z`;
  layout.shapes.push({type:'path', xref:'paper', yref:'paper', path:path, fillcolor:'rgba(234,234,242,0.8)', line:{color:'#cccccc', width:1}, layer:'above'});
  p.names.forEach((nm, j) => {
    const yy = g.row0 + g.step * j;
    layout.shapes.push({type:'line', xref:'paper', yref:'paper', x0:px(g.l0), x1:px(g.l1), y0:py(yy), y1:py(yy), line:{color:p.colors[j], width:2}, layer:'above'});
    layout.annotations.push({text:nm, xref:'paper', yref:'paper', x:px(g.tx), y:py(yy), xanchor:'left', yanchor:'middle', showarrow:false, font:{size:g.fs, color:TXT, family:FONT}});
  });
});

// log tick labels of the first train-loss panel: "10" with a raised exponent (matplotlib style)
lossTickVals.forEach((v, k) => {
  const frac = (LOSS_RANGE[1] - Math.log10(v)) / (LOSS_RANGE[1] - LOSS_RANGE[0]);
  const gy = BOT[0] + frac * (BOT[1] - BOT[0]);
  const xr = LEFTS[0] - 14;
  layout.annotations.push({text:'10', xref:'paper', yref:'paper', x:px(xr), y:py(gy + 3.5), xanchor:'right', yanchor:'middle', showarrow:false, font:{size:12, color:TXT, family:FONT}});
  layout.annotations.push({text:lossTickExp[k], xref:'paper', yref:'paper', x:px(xr - 0.5), y:py(gy - 3.5), xanchor:'left', yanchor:'middle', showarrow:false, font:{size:8.5, color:TXT, family:FONT}});
});

Plotly.newPlot('chart', traces, layout, {displayModeBar:false, staticPlot:true});
</script>
</body></html>
